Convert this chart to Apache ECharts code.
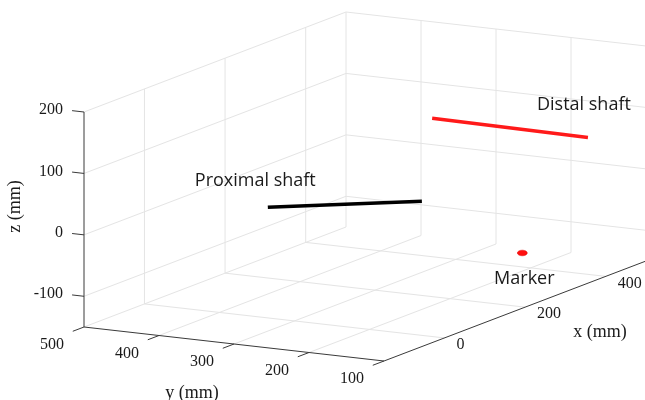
<!DOCTYPE html>
<html>
<head>
<meta charset="utf-8">
<script src="https://cdn.jsdelivr.net/npm/echarts@6/dist/echarts.min.js"></script>
<style>
  html, body { margin: 0; padding: 0; background: #fff; }
  #chart { width: 645px; height: 400px; }
</style>
</head>
<body>
<div id="chart"></div>
<script>
// axis limits and ticks (mm)
var xRange = [-150, 500];
var yRange = [100, 500];
var zRange = [-150, 200];
var xTicks = [0, 200, 400];
var yTicks = [100, 200, 300, 400, 500];
var zTicks = [-100, 0, 100, 200];

// 3D points [x, y, z]
var proximalShaft = [[120, 400, -9], [130, 200, 26]];
var distalShaft = [[457, 362, 57], [449, 150, 57]];
var markerPoint = [316, 166, -100];

// view: screen place of (xmin,ymin,zmin) and the screen vector of each full axis
var view = {
    origin: [384, 361],
    ex: [262, -100],
    ey: [-300, -34],
    ez: [0, -215]
};

function project(p) {
    var u = (p[0] - xRange[0]) / (xRange[1] - xRange[0]);
    var v = (p[1] - yRange[0]) / (yRange[1] - yRange[0]);
    var w = (p[2] - zRange[0]) / (zRange[1] - zRange[0]);
    return [
        view.origin[0] + u * view.ex[0] + v * view.ey[0] + w * view.ez[0],
        view.origin[1] + u * view.ex[1] + v * view.ey[1] + w * view.ez[1]
    ];
}
function seg(a, b) {
    var p = project(a), q = project(b);
    return [p[0], p[1], q[0], q[1]];
}
function unit(v) {
    var l = Math.sqrt(v[0] * v[0] + v[1] * v[1]);
    return [v[0] / l, v[1] / l];
}

var x0 = xRange[0], x1 = xRange[1], y0 = yRange[0], y1 = yRange[1], z0 = zRange[0], z1 = zRange[1];

// grid on the back planes
var gridSegs = [];
xTicks.forEach(function (x) {
    gridSegs.push(seg([x, y1, z0], [x, y1, z1]));
    gridSegs.push(seg([x, y0, z0], [x, y1, z0]));
});
yTicks.forEach(function (y) {
    gridSegs.push(seg([x1, y, z0], [x1, y, z1]));
    if (y !== y0) gridSegs.push(seg([x0, y, z0], [x1, y, z0]));
});
zTicks.forEach(function (z) {
    gridSegs.push(seg([x0, y1, z], [x1, y1, z]));
    gridSegs.push(seg([x1, y0, z], [x1, y1, z]));
});

// axis lines and ticks
var axisSegs = [
    seg([x0, y1, z0], [x0, y1, z1]),
    seg([x0, y0, z0], [x0, y1, z0]),
    seg([x0, y0, z0], [x1, y0, z0])
];
var tickLen = 12;
var zDir = unit(view.ey);
var yDir = unit([-view.ex[0], -view.ex[1]]);
zTicks.forEach(function (z) {
    var p = project([x0, y1, z]);
    axisSegs.push([p[0], p[1], p[0] + zDir[0] * tickLen, p[1] + zDir[1] * tickLen]);
});
yTicks.forEach(function (y) {
    var p = project([x0, y, z0]);
    axisSegs.push([p[0], p[1], p[0] + yDir[0] * tickLen, p[1] + yDir[1] * tickLen]);
});

// texts
var serif = '"Liberation Serif", "DejaVu Serif", serif';
var sans = '"Open Sans", "Noto Sans", sans-serif';
var texts = [];
function addText(p, dx, dy, text, font, align, rot) {
    texts.push({ pos: [p[0] + dx, p[1] + dy], text: text, font: font, align: align, rot: rot || 0 });
}
zTicks.forEach(function (z) {
    addText(project([x0, y1, z]), -21, -2, String(z), '16px ' + serif, 'right');
});
yTicks.forEach(function (y) {
    addText(project([x0, y, z0]), -32, 18, String(y), '16px ' + serif, 'center');
});
xTicks.forEach(function (x) {
    addText(project([x, y0, z0]), 12, 7, String(x), '16px ' + serif, 'left');
});
addText(project([x0, y1, (z0 + z1) / 2]), -69, -13, 'z (mm)', '18px ' + serif, 'center', Math.PI / 2);
addText(project([x0, (y0 + y1) / 2, z0]), -42, 49, 'y (mm)', '18px ' + serif, 'center');
addText(project([(x0 + x1) / 2, y0, z0]), 85, 21, 'x (mm)', '18px ' + serif, 'center');
addText(project(proximalShaft[0]), -73, -26, 'Proximal shaft', '18px ' + sans, 'left');
addText(project(distalShaft[1]), -51, -33, 'Distal shaft', '18px ' + sans, 'left');
addText(project(markerPoint), 2, 26, 'Marker', '18px ' + sans, 'center');

function segmentSeries(segs, color, width, z) {
    return {
        type: 'custom',
        z: z,
        silent: true,
        data: segs,
        renderItem: function (params, api) {
            var a = api.coord([api.value(0), api.value(1)]);
            var b = api.coord([api.value(2), api.value(3)]);
            return {
                type: 'line',
                shape: { x1: a[0], y1: a[1], x2: b[0], y2: b[1] },
                style: { stroke: color, lineWidth: width, lineCap: 'butt' }
            };
        }
    };
}

var myChart = echarts.init(document.getElementById('chart'));
var option = {
    backgroundColor: '#fff',
    animation: false,
    grid: { left: 0, right: 0, top: 0, bottom: 0 },
    xAxis: { type: 'value', min: 0, max: 645, show: false },
    yAxis: { type: 'value', min: 0, max: 400, inverse: true, show: false },
    series: [
        segmentSeries(gridSegs, '#e4e4e4', 1, 1),
        segmentSeries(axisSegs, '#3a3a3a', 1, 2),
        segmentSeries([seg(proximalShaft[0], proximalShaft[1])], '#000000', 3.5, 3),
        segmentSeries([seg(distalShaft[0], distalShaft[1])], '#ff1a1a', 3.5, 3),
        {
            type: 'custom',
            z: 4,
            silent: true,
            data: [project(markerPoint)],
            renderItem: function (params, api) {
                var c = api.coord([api.value(0), api.value(1)]);
                return {
                    type: 'ellipse',
                    shape: { cx: c[0], cy: c[1], rx: 5, ry: 2.8 },
                    style: { fill: '#ff1010', stroke: '#e00000', lineWidth: 0.5 }
                };
            }
        },
        {
            type: 'custom',
            z: 5,
            silent: true,
            data: texts.map(function (t) { return t.pos; }),
            renderItem: function (params, api) {
                var t = texts[params.dataIndex];
                var c = api.coord([api.value(0), api.value(1)]);
                return {
                    type: 'text',
                    x: c[0],
                    y: c[1],
                    rotation: t.rot,
                    style: {
                        text: t.text,
                        font: t.font,
                        fill: '#1a1a1a',
                        align: t.align,
                        verticalAlign: 'middle'
                    }
                };
            }
        }
    ]
};
myChart.setOption(option);
</script>
</body>
</html>
